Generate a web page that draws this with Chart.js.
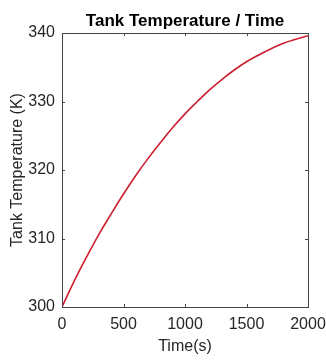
<!DOCTYPE html>
<html lang="en">
<head>
  <meta charset="UTF-8">
  <title>Tank Temperature / Time</title>
  <script src="https://cdn.jsdelivr.net/npm/chart.js"></script>
  <style>
    * { margin: 0; padding: 0; box-sizing: border-box; }
    body { background: #fff; width: 326px; height: 360px; overflow: hidden; }
    #wrap { width: 326px; height: 360px; position: relative; }
  </style>
</head>
<body>
  <div id="wrap"><canvas id="tankChart" width="326" height="360"></canvas></div>

  <script>
    // values
    const times = [0, 100, 200, 300, 400, 500, 600, 700, 800, 900, 1000,
                   1100, 1200, 1300, 1400, 1500, 1600, 1700, 1800, 1900, 2000];
    const temps = [300, 303.8, 307.3, 310.6, 313.6, 316.5, 319.2, 321.7, 324.0, 326.2, 328.2,
                   330.0, 331.7, 333.2, 334.6, 335.8, 336.8, 337.7, 338.5, 339.1, 339.6];
    const xTicks = [0, 500, 1000, 1500, 2000];
    const yTicks = [300, 310, 320, 330, 340];

    const FONT = "'Liberation Sans', Arial, sans-serif";
    const AXIS = '#444';
    const TEXT = '#262626';

    // box + inward tick marks, matlab style
    const boxPlugin = {
      id: 'box',
      afterDraw(chart) {
        const { ctx, chartArea: a, scales } = chart;
        ctx.save();
        ctx.strokeStyle = AXIS;
        ctx.lineWidth = 1;
        ctx.strokeRect(a.left + 0.5, a.top + 0.5, a.right - a.left, a.bottom - a.top);
        const tl = 3;
        ctx.beginPath();
        xTicks.forEach(v => {
          const x = Math.round(scales.x.getPixelForValue(v)) + 0.5;
          ctx.moveTo(x, a.bottom); ctx.lineTo(x, a.bottom - tl);
          ctx.moveTo(x, a.top); ctx.lineTo(x, a.top + tl);
        });
        yTicks.forEach(v => {
          const y = Math.round(scales.y.getPixelForValue(v)) + 0.5;
          ctx.moveTo(a.left, y); ctx.lineTo(a.left + tl, y);
          ctx.moveTo(a.right, y); ctx.lineTo(a.right - tl, y);
        });
        ctx.stroke();
        // title centred over the axes
        ctx.fillStyle = '#000';
        ctx.font = 'bold 17px ' + FONT;
        ctx.textAlign = 'center';
        ctx.textBaseline = 'alphabetic';
        ctx.fillText('Tank Temperature / Time', (a.left + a.right) / 2, 26);
        ctx.restore();
      }
    };

    new Chart(document.getElementById('tankChart'), {
      type: 'line',
      data: {
        datasets: [{
          data: times.map((t, i) => ({ x: t, y: temps[i] })),
          borderColor: '#cc1f2d',
          borderWidth: 1.6,
          pointRadius: 0,
          tension: 0.4,
          fill: false
        }]
      },
      options: {
        responsive: false,
        animation: false,
        layout: { padding: { top: 33, right: 0, left: 0, bottom: 0 } },
        plugins: { legend: { display: false }, title: { display: false }, tooltip: { enabled: false } },
        scales: {
          x: {
            type: 'linear',
            min: 0, max: 2000,
            afterBuildTicks: s => { s.ticks = xTicks.map(v => ({ value: v })); },
            afterFit: s => { s.height = 53; s.paddingRight = 18; s.paddingLeft = 0; },
            grid: { display: false, drawTicks: false },
            border: { display: false },
            ticks: { color: TEXT, font: { family: FONT, size: 16 }, padding: 8, maxRotation: 0,
                     callback: v => String(v) },
            title: { display: true, text: 'Time(s)', color: TEXT, font: { family: FONT, size: 16 }, padding: { top: 0, bottom: 4 } }
          },
          y: {
            type: 'linear',
            min: 300, max: 340,
            afterBuildTicks: s => { s.ticks = yTicks.map(v => ({ value: v })); },
            afterFit: s => { s.width = 62; },
            grid: { display: false, drawTicks: false },
            border: { display: false },
            ticks: { color: TEXT, font: { family: FONT, size: 16 }, padding: 7 },
            title: { display: true, text: 'Tank Temperature (K)', color: TEXT, font: { family: FONT, size: 16 }, padding: { top: 8, bottom: 0 } }
          }
        }
      },
      plugins: [boxPlugin]
    });
  </script>
</body>
</html>
